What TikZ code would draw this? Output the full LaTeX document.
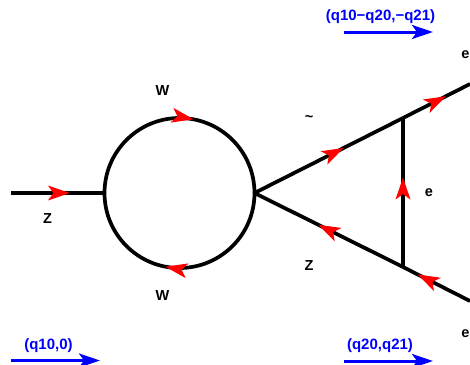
\documentclass[tikz,border=0pt]{standalone}
\usepackage{fontspec}
\setmainfont{Liberation Sans}
\usetikzlibrary{arrows.meta,decorations.markings}
\tikzset{
  prop/.style={line width=3.7pt,black,line cap=butt},
  headat/.style={postaction={decorate},decoration={markings,mark=at position #1 with {\arrow[line width=0pt]{Stealth[length=22pt,width=15pt,inset=5.5pt,red]}}}},
  mom/.style={line width=3pt,blue,-{Stealth[length=21pt,width=14pt,inset=5pt]}},
  momlabel/.style={text=blue,font=\fontsize{15}{17}\selectfont\bfseries,inner sep=0pt},
  partlabel/.style={text=black,font=\fontsize{14.5}{16}\selectfont\bfseries,inner sep=0pt},
}
\begin{document}
\begin{tikzpicture}[x=1pt,y=-1pt]
\useasboundingbox (0,0) rectangle (470,364);
\coordinate (in) at (11,193);
\coordinate (west) at (104.5,193);
\coordinate (vtx) at (254.5,193);
\coordinate (top) at (403,118);
\coordinate (bot) at (403,267);
\coordinate (outT) at (470,84);
\coordinate (outB) at (470,301);
\draw[prop,headat=0.63] (in) -- (west);
\draw[prop,headat=0.56] (west) arc (180:360:75);
\draw[prop,headat=0.56] (vtx) arc (0:180:75);
\draw[prop,headat=0.6] (vtx) -- (top);
\draw[prop,headat=0.64] (top) -- (outT);
\draw[prop,headat=0.6] (bot) -- (top);
\draw[prop,headat=0.57] (bot) -- (vtx);
\draw[prop,headat=0.78] (outB) -- (bot);
\coordinate (m1a) at (344,32); \coordinate (m1b) at (433,32);
\coordinate (m2a) at (11,360.5); \coordinate (m2b) at (100,360.5);
\coordinate (m3a) at (344,361); \coordinate (m3b) at (433,361);
\draw[mom] (m1a) -- (m1b);
\draw[mom] (m2a) -- (m2b);
\draw[mom] (m3a) -- (m3b);
\node[momlabel] (l1) at (380.5,17) {(q10−q20,−q21)};
\node[momlabel] (l2) at (48.5,346) {(q10,0)};
\node[momlabel] (l3) at (380,346) {(q20,q21)};
\node[partlabel] (w1) at (162.5,91) {W};
\node[partlabel] (w2) at (162.5,296) {W};
\node[partlabel] (z1) at (47.5,218.5) {Z};
\node[partlabel] (z2) at (309,266) {Z};
\node[partlabel] (t) at (309,119) {\textasciitilde};
\node[partlabel] (e1) at (465.5,55) {e};
\node[partlabel] (e2) at (429,192.5) {e};
\node[partlabel] (e3) at (465.5,334) {e};
\end{tikzpicture}
\end{document}
